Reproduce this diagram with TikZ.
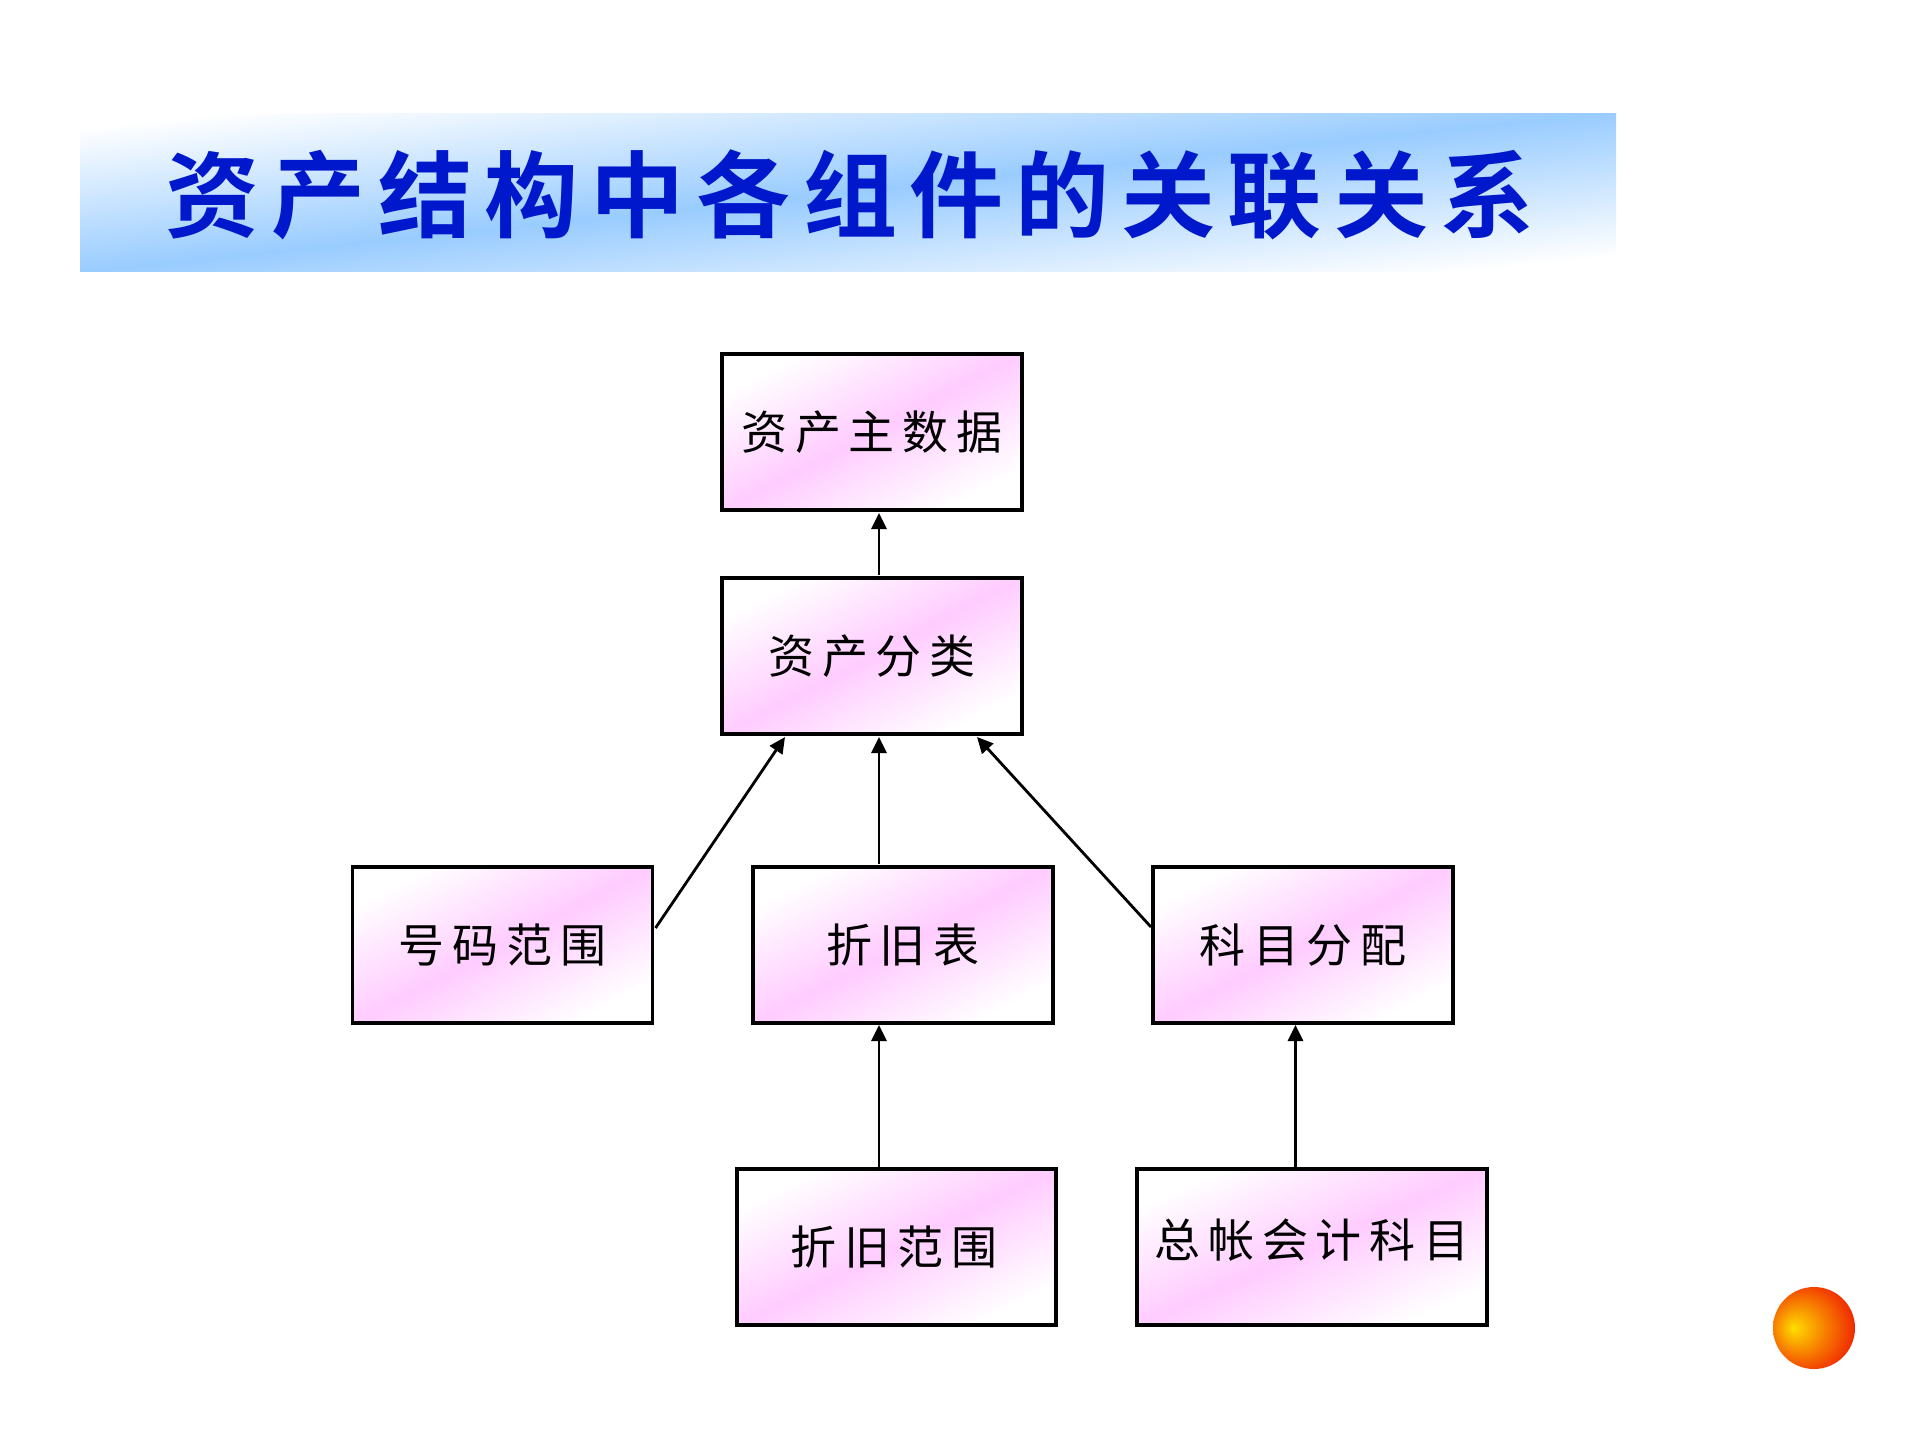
\documentclass[tikz,border=0pt]{standalone}
\usepackage{fontspec}
\usetikzlibrary{arrows.meta}
\newfontfamily\cjk[LetterSpace=17]{Noto Sans CJK SC}
\newfontfamily\cjktitle[LetterSpace=13]{Noto Sans CJK SC Bold}
\definecolor{pk}{HTML}{FFCCFF}
\definecolor{bandblue}{HTML}{99CCFF}
\definecolor{titleblue}{HTML}{0018CC}
\definecolor{sunyellow}{HTML}{FFDD00}
\definecolor{sunred}{HTML}{EE1100}
\pgfdeclareverticalshading{pinkband}{100bp}{color(0bp)=(white); color(25bp)=(white); color(50bp)=(pk); color(75bp)=(white); color(100bp)=(white)}
\pgfdeclareverticalshading{blueband}{100bp}{color(0bp)=(white); color(25bp)=(white); color(50bp)=(bandblue); color(75bp)=(white); color(100bp)=(white)}
\pgfdeclareradialshading{sunball}{\pgfpoint{-12.8bp}{0bp}}{color(0bp)=(sunyellow); color(34bp)=(sunred); color(50bp)=(sunred)}
\tikzset{
  box/.style={draw=black,line width=3.2pt,shading=pinkband,inner sep=0pt,outer sep=0pt,
    minimum height=156pt,font=\cjk\fontsize{46pt}{50pt}\selectfont,text=black},
  arr/.style={-{Triangle[length=16pt,width=15pt]},line width=2.8pt,black},
}
\begin{document}
\begin{tikzpicture}[x=1pt,y=-1pt]
\useasboundingbox (0,0) rectangle (1920,1440);
\node[shading=blueband,shading angle=5.95,minimum width=1536pt,minimum height=158pt,inner sep=0pt,outer sep=0pt,
  text=titleblue,font=\cjktitle\fontsize{94pt}{100pt}\selectfont] (title) at (848,192) {\hspace*{4pt}\raisebox{-2.5pt}[\height][\depth]{资产结构中各组件的关联关系}};
\node[box,minimum width=300pt,shading angle=27.6] (zhu) at (872,432) {资产主数据};
\node[box,minimum width=300pt,shading angle=27.6] (fenlei) at (872,656) {资产分类};
\node[box,minimum width=300pt,shading angle=27.6] (haoma) at (502.5,945) {号码范围};
\node[box,minimum width=300pt,shading angle=27.6] (zhejiu) at (903,945) {折旧表};
\node[box,minimum width=300pt,shading angle=27.6] (kemu) at (1303,945) {科目分配};
\node[box,minimum width=319pt,shading angle=26.2] (fanwei) at (896.5,1247) {\hspace*{-5pt}折旧范围};
\node[box,minimum width=350pt,shading angle=24.2] (zongzhang) at (1312,1247) {\raisebox{7pt}[\height][\depth]{总帐会计科目}};
\draw[arr] ([xshift=7pt,yshift=3pt]fenlei.north) -- ([xshift=7pt,yshift=-3pt]zhu.south);
\draw[arr] ([xshift=3pt,yshift=17pt]haoma.east) -- ([xshift=-87pt,yshift=-3pt]fenlei.south);
\draw[arr] ([xshift=-24pt,yshift=3pt]zhejiu.north) -- ([xshift=7pt,yshift=-3pt]fenlei.south);
\draw[arr] ([xshift=-2pt,yshift=18pt]kemu.west) -- ([xshift=105pt,yshift=-3pt]fenlei.south);
\draw[arr] ([xshift=-17.5pt]fanwei.north) -- ([xshift=-24pt,yshift=-2pt]zhejiu.south);
\draw[arr] ([xshift=-16.5pt]zongzhang.north) -- ([xshift=-7.5pt,yshift=-2pt]kemu.south);
\shade[shading=sunball] (1814,1328) circle (41);
\end{tikzpicture}
\end{document}
